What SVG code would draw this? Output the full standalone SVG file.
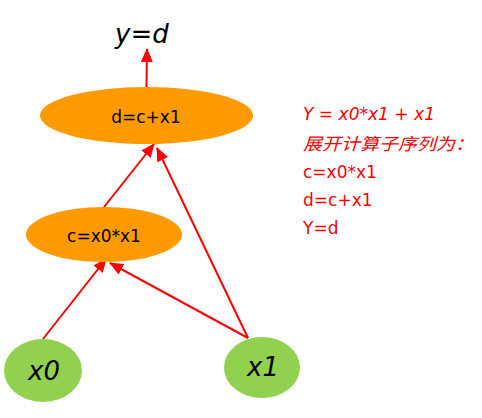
<svg xmlns="http://www.w3.org/2000/svg" width="482" height="418" viewBox="0 0 482 418">
<style>
.op{fill:#FF9A00}
.in{fill:#92D050}
.lbl{font-family:"DejaVu Sans",Verdana,sans-serif;fill:#000}
.big{font-size:26px;font-style:italic}
.mid{font-size:17px}
.edge{stroke:#FF0000;stroke-width:2;fill:none;marker-end:url(#ah)}
.note{font-family:"DejaVu Sans","Noto Sans CJK SC",sans-serif;fill:#FF0000;font-size:17px}
</style>
<defs>
<marker id="ah" markerUnits="userSpaceOnUse" markerWidth="14" markerHeight="12" viewBox="0 0 14 12" refX="13" refY="6" orient="auto">
<path d="M0,0 L14,6 L0,12 Z" fill="#FF0000"/>
</marker>
</defs>
<rect width="482" height="418" fill="#fff"/>
<g id="connectors">
<line class="edge" x1="146.5" y1="87" x2="147" y2="49"/>
<line class="edge" x1="104" y1="207" x2="154" y2="144"/>
<line class="edge" x1="248" y1="338" x2="157" y2="148"/>
<line class="edge" x1="43" y1="339" x2="106" y2="259"/>
<line class="edge" x1="248" y1="338" x2="110" y2="263"/>
</g>
<g id="output">
<text class="lbl big" x="115" y="43">y=d</text>
</g>
<g id="node-d">
<ellipse class="op" cx="146.5" cy="115.5" rx="106.5" ry="28.5"/>
<text class="lbl mid" x="146" y="123" text-anchor="middle">d=c+x1</text>
</g>
<g id="node-c">
<ellipse class="op" cx="104" cy="234.5" rx="78" ry="27.5"/>
<text class="lbl mid" x="104" y="242" text-anchor="middle">c=x0*x1</text>
</g>
<g id="node-x0">
<ellipse class="in" cx="43" cy="370.5" rx="39" ry="31.5"/>
<text class="lbl big" x="44" y="380" text-anchor="middle">x0</text>
</g>
<g id="node-x1">
<ellipse class="in" cx="262" cy="367.5" rx="38" ry="30.5"/>
<text class="lbl big" x="263" y="376" text-anchor="middle">x1</text>
</g>
<g id="notes">
<text class="note" x="303" y="120" font-style="italic" font-size="16" textLength="132" lengthAdjust="spacingAndGlyphs">Y = x0*x1 + x1</text>
<text class="note" x="303" y="150" font-style="italic" font-size="18" textLength="171" lengthAdjust="spacingAndGlyphs">展开计算子序列为：</text>
<text class="note" x="303" y="178">c=x0*x1</text>
<text class="note" x="303" y="206">d=c+x1</text>
<text class="note" x="303" y="234">Y=d</text>
</g>
</svg>
